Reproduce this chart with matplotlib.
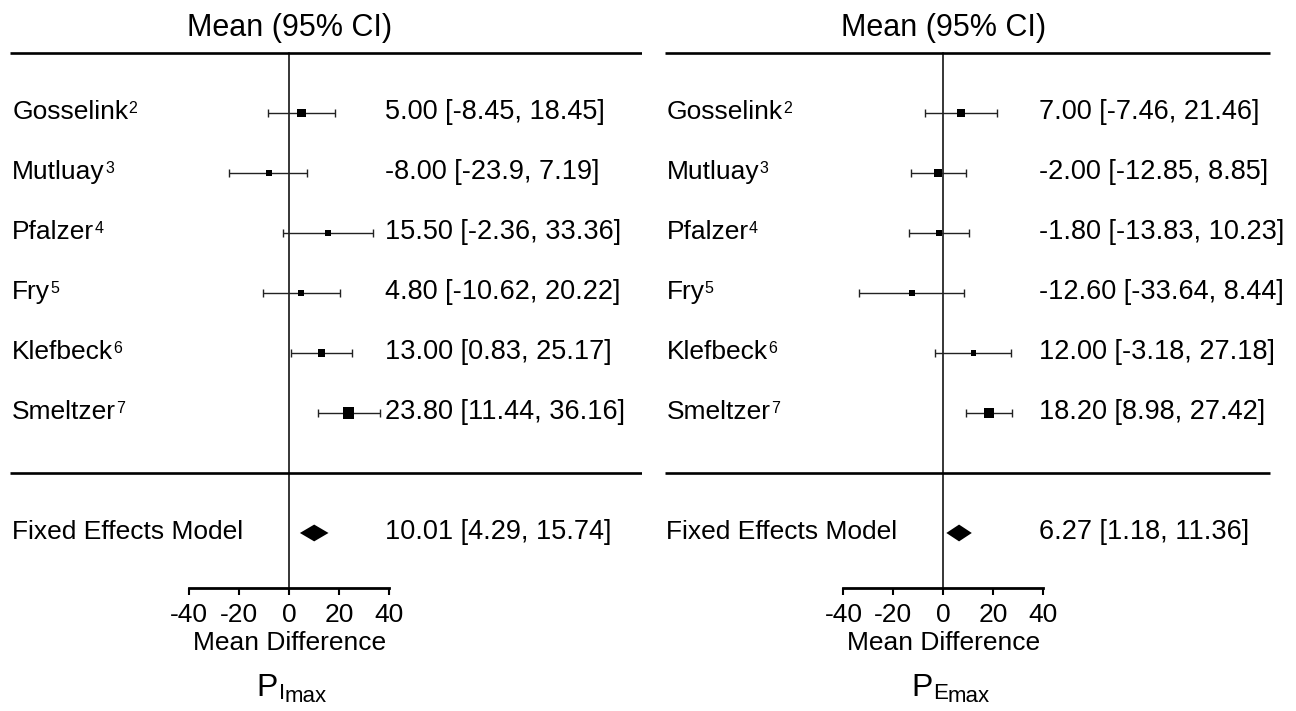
import numpy as np
import matplotlib
matplotlib.use("Agg")
import matplotlib.pyplot as plt
from matplotlib.patches import Polygon

plt.rcParams['font.family'] = ['Liberation Sans', 'DejaVu Sans']
plt.rcParams['axes.unicode_minus'] = False

# data
studies = ["Gosselink", "Mutluay", "Pfalzer", "Fry", "Klefbeck", "Smeltzer"]
refs = ["2", "3", "4", "5", "6", "7"]

imax_mean = [5.00, -8.00, 15.50, 4.80, 13.00, 23.80]
imax_lo = [-8.45, -23.9, -2.36, -10.62, 0.83, 11.44]
imax_hi = [18.45, 7.19, 33.36, 20.22, 25.17, 36.16]
imax_wt = [8.5, 6.5, 6, 6, 7.5, 11.5]
imax_fixed = [10.01, 4.29, 15.74]
imax_txt = ["5.00 [-8.45, 18.45]", "-8.00 [-23.9, 7.19]", "15.50 [-2.36, 33.36]",
            "4.80 [-10.62, 20.22]", "13.00 [0.83, 25.17]", "23.80 [11.44, 36.16]"]
imax_fixed_txt = "10.01 [4.29, 15.74]"

emax_mean = [7.00, -2.00, -1.80, -12.60, 12.00, 18.20]
emax_lo = [-7.46, -12.85, -13.83, -33.64, -3.18, 8.98]
emax_hi = [21.46, 8.85, 10.23, 8.44, 27.18, 27.42]
emax_wt = [8, 8, 6.5, 5.5, 5.5, 9.5]
emax_fixed = [6.27, 1.18, 11.36]
emax_txt = ["7.00 [-7.46, 21.46]", "-2.00 [-12.85, 8.85]", "-1.80 [-13.83, 10.23]",
            "-12.60 [-33.64, 8.44]", "12.00 [-3.18, 27.18]", "18.20 [8.98, 27.42]"]
emax_fixed_txt = "6.27 [1.18, 11.36]"

xticks = [-40, -20, 0, 20, 40]

fig = plt.figure(figsize=(12.96, 7.11), dpi=100)


def panel(rect, mean, lo, hi, wt, fixed, txt, fixed_txt, sub, line_end):
    ax = fig.add_axes(rect)
    ax.set_xlim(-118, 141.2)
    ax.set_ylim(9.967, -1.883)
    rows = np.arange(len(mean))
    fixed_row = len(mean) + 1
    axis_row = 7.92

    ax.text(0, -1.42, "Mean (95% CI)", ha='center', va='center', fontsize=22)
    ax.plot([-111.5, line_end], [-1, -1], color='black', lw=1.9, solid_capstyle='butt')
    ax.plot([-111.5, line_end], [6, 6], color='black', lw=1.9, solid_capstyle='butt')
    ax.plot([0, 0], [-1, axis_row], color='black', lw=1.1)

    mean = np.array(mean)
    ax.errorbar(mean, rows, xerr=[mean - np.array(lo), np.array(hi) - mean],
                fmt='none', ecolor='#222222', elinewidth=1.0, capsize=2.6, capthick=1.0)
    ax.scatter(mean, rows, marker='s', s=(np.array(wt) * 0.72) ** 2,
               color='black', linewidths=0, zorder=3)

    est, flo, fhi = fixed
    h = 0.14
    ax.add_patch(Polygon([[flo, fixed_row], [est, fixed_row - h], [fhi, fixed_row],
                          [est, fixed_row + h]], closed=True, color='black', lw=0))

    for r, name, ref, t in zip(rows, studies, refs, txt):
        nt = ax.text(-110.8, r + 0.1, name, fontsize=19, va='baseline')
        ax.annotate(ref, xy=(1, 0), xycoords=nt, xytext=(0.3, 6.0),
                    textcoords='offset points', fontsize=11.5, va='bottom')
        ax.text(38.3, r + 0.1, t, fontsize=19.5, va='baseline')
    ax.text(-110.8, fixed_row + 0.1, "Fixed Effects Model", fontsize=19, va='baseline')
    ax.text(38.3, fixed_row + 0.1, fixed_txt, fontsize=19.5, va='baseline')

    # bottom axis
    for s in ['top', 'left', 'right']:
        ax.spines[s].set_visible(False)
    ax.spines['bottom'].set_position(('data', axis_row))
    ax.spines['bottom'].set_bounds(-40, 40)
    ax.spines['bottom'].set_linewidth(2)
    ax.set_xticks(xticks)
    ax.set_xticklabels([str(v) for v in xticks])
    ax.tick_params(axis='x', direction='out', length=5, width=1.5, labelsize=19, pad=6)
    ax.set_yticks([])
    ax.patch.set_visible(False)
    ax.text(0, 8.95, "Mean Difference", ha='center', va='baseline', fontsize=19)

    pt = ax.text(-13, 9.72, "P", fontsize=23, va='baseline')
    st = ax.annotate(sub, xy=(1, 0), xycoords=pt, xytext=(0.5, -0.5),
                     textcoords='offset points', fontsize=16, va='bottom')
    ax.annotate("max", xy=(1, 0), xycoords=st, xytext=(0, -2.5),
                textcoords='offset points', fontsize=16, va='bottom')
    return ax


panel([-0.0045, 0, 0.5, 1], imax_mean, imax_lo, imax_hi, imax_wt, imax_fixed,
      imax_txt, imax_fixed_txt, "I", 142.3)
panel([0.5003, 0, 0.5, 1], emax_mean, emax_lo, emax_hi, emax_wt, emax_fixed,
      emax_txt, emax_fixed_txt, "E", 130.7)

fig.savefig("out.png", dpi=100)
